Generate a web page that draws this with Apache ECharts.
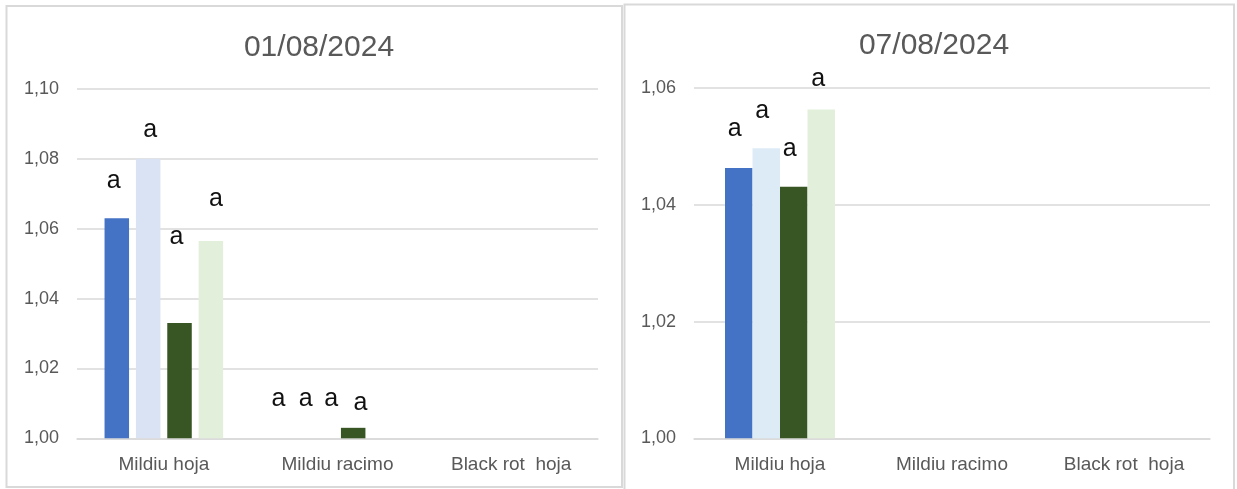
<!DOCTYPE html>
<html>
<head>
<meta charset="utf-8">
<script src="https://cdn.jsdelivr.net/npm/echarts@6/dist/echarts.min.js"></script>
<style>
html,body{margin:0;padding:0;background:#fff;}
#c{width:1237px;height:489px;}
</style>
</head>
<body>
<div id="c"></div>
<script>
// ---- data ----
var titles = ['01/08/2024', '07/08/2024'];
var categories = ['Mildiu hoja', 'Mildiu racimo', 'Black rot  hoja'];
var seriesNames = ['T1', 'T2', 'T3', 'T4'];

// panel 1: 01/08/2024
var p1_t1 = [1.063, 1.000, null];
var p1_t2 = [1.080, 1.000, null];
var p1_t3 = [1.033, 1.003, null];
var p1_t4 = [1.0565, 1.000, null];
// height of the letter labels (panel 1)
var p1_lab_t1 = [1.0736, 1.0112, null];
var p1_lab_t2 = [1.0883, 1.0112, null];
var p1_lab_t3 = [1.0577, 1.0112, null];
var p1_lab_t4 = [1.0684, 1.0102, null];
var p1_letters = [['a', 'a', ''], ['a', 'a', ''], ['a', 'a', ''], ['a', 'a', '']];

// panel 2: 07/08/2024
var p2_t1 = [1.0463, null, null];
var p2_t2 = [1.0497, null, null];
var p2_t3 = [1.0431, null, null];
var p2_t4 = [1.0563, null, null];
var p2_lab_t1 = [1.0529, null, null];
var p2_lab_t2 = [1.0560, null, null];
var p2_lab_t3 = [1.0496, null, null];
var p2_lab_t4 = [1.0616, null, null];
var p2_letters = [['a', '', ''], ['a', '', ''], ['a', '', ''], ['a', '', '']];

// y axis settings
var yMin = 1.00;
var p1_yMax = 1.10;
var p2_yMax = 1.06;
var yStep = 0.02;

// ---- styles ----
var colors = ['#4472C4', '#DAE3F3', '#375623', '#E2EFDA'];
var colors2 = ['#4472C4', '#DDEBF7', '#375623', '#E2EFDA'];
var gray = '#595959';
var gridGray = '#d9d9d9';
var font = '"Liberation Sans", Arial, sans-serif';
// horizontal nudge (px) of the letters per series, per category, as placed in the original
var p1_letterShift = [[-3, -12, 0], [2, -16, 0], [-3, -22, 0], [5, -24, 0]];
var p2_letterShift = [[-4, 0, 0], [-4, 0, 0], [-4, 0, 0], [-3, 0, 0]];

var chart = echarts.init(document.getElementById('c'), null, {renderer: 'canvas'});

function fmt(v) { return v.toFixed(2).replace('.', ','); }

var panels = [
  {vals: [p1_t1, p1_t2, p1_t3, p1_t4], labs: [p1_lab_t1, p1_lab_t2, p1_lab_t3, p1_lab_t4], letters: p1_letters,
   shift: p1_letterShift, max: p1_yMax, barWidth: 24.5, barGap: '28%', cols: colors},
  {vals: [p2_t1, p2_t2, p2_t3, p2_t4], labs: [p2_lab_t1, p2_lab_t2, p2_lab_t3, p2_lab_t4], letters: p2_letters,
   shift: p2_letterShift, max: p2_yMax, barWidth: 27.5, barGap: '0%', cols: colors2}
];

var grids = [
  {left: 77, top: 89, width: 521, height: 349.3},
  {left: 694, top: 88, width: 516, height: 350.3}
];

var xAxes = [], yAxes = [], series = [];
panels.forEach(function (p, pi) {
  xAxes.push({
    type: 'category', gridIndex: pi, data: categories,
    axisLine: {show: true, lineStyle: {color: gridGray, width: 1.5}},
    axisTick: {show: false},
    axisLabel: {color: gray, fontSize: 19, fontFamily: font, margin: 17}
  });
  xAxes.push({
    type: 'category', gridIndex: pi, data: categories, show: false
  });
  yAxes.push({
    type: 'value', gridIndex: pi, min: yMin, max: p.max, interval: yStep,
    axisLine: {show: false}, axisTick: {show: false},
    axisLabel: {color: gray, fontSize: 18, fontFamily: font, margin: 18, formatter: fmt},
    splitLine: {lineStyle: {color: gridGray, width: 1.5}}
  });
  p.vals.forEach(function (arr, si) {
    series.push({
      type: 'bar', name: seriesNames[si], xAxisIndex: pi * 2, yAxisIndex: pi,
      data: arr, barWidth: p.barWidth, barGap: p.barGap,
      itemStyle: {color: p.cols[si]}, silent: true
    });
  });
  p.labs.forEach(function (arr, si) {
    series.push({
      type: 'bar', name: seriesNames[si] + ' label', xAxisIndex: pi * 2 + 1, yAxisIndex: pi,
      data: arr.map(function (v, ci) {
        return {value: v, label: {offset: [p.shift[si][ci], 0]}};
      }),
      barWidth: p.barWidth, barGap: p.barGap, clip: false, silent: true,
      itemStyle: {color: 'rgba(0,0,0,0)'},
      label: {
        show: true, position: ['50%', 0], align: 'center', verticalAlign: 'middle',
        color: '#111', fontSize: 25, fontFamily: font,
        formatter: function (params) { return p.letters[si][params.dataIndex] || ''; }
      }
    });
  });
});

var option = {
  animation: false,
  backgroundColor: '#fff',
  title: [
    {text: titles[0], left: 314, top: 28, textAlign: 'center',
     textStyle: {color: gray, fontSize: 30, fontWeight: 'normal', fontFamily: font}},
    {text: titles[1], left: 929, top: 26, textAlign: 'center',
     textStyle: {color: gray, fontSize: 30, fontWeight: 'normal', fontFamily: font}}
  ],
  graphic: [
    {type: 'rect', shape: {x: 6.5, y: 6, width: 615.5, height: 481}, style: {fill: null, stroke: gridGray, lineWidth: 2}, silent: true},
    {type: 'rect', shape: {x: 624.5, y: 4.5, width: 609.5, height: 500}, style: {fill: null, stroke: gridGray, lineWidth: 2}, silent: true}
  ],
  grid: grids,
  xAxis: xAxes,
  yAxis: yAxes,
  series: series
};
chart.setOption(option);
</script>
</body>
</html>
